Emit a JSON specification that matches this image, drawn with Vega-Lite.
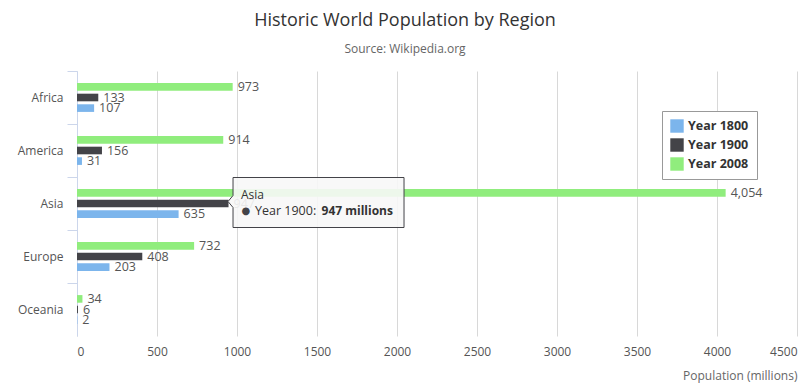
{
  "$schema": "https://vega.github.io/schema/vega-lite/v6.json",
  "width": 720,
  "height": 265,
  "autosize": {"type": "none"},
  "padding": {"left": 77, "top": 71, "right": 13, "bottom": 53},
  "background": "white",
  "title": {
    "text": "Historic World Population by Region",
    "subtitle": "Source: Wikipedia.org",
    "anchor": "middle",
    "dx": -32,
    "offset": 16,
    "font": "Open Sans",
    "fontSize": 18,
    "fontWeight": "normal",
    "color": "#333333",
    "subtitleFont": "Open Sans",
    "subtitleFontSize": 12,
    "subtitleColor": "#666666",
    "subtitlePadding": 14
  },
  "config": {
    "view": {"stroke": null},
    "font": "Open Sans",
    "legend": {
      "orient": "top-right",
      "offset": 40,
      "padding": 8,
      "fillColor": "white",
      "strokeColor": "#999999",
      "cornerRadius": 0,
      "symbolType": "square",
      "symbolSize": 180,
      "symbolStrokeWidth": 0,
      "symbolOpacity": 1,
      "labelFont": "Open Sans",
      "labelFontSize": 12.5,
      "labelFontWeight": "bold",
      "labelColor": "#333333",
      "rowPadding": 5,
      "title": null
    }
  },
  "datasets": {
    "pop": [
      {"region": "Africa", "series": "Year 1800", "value": 107},
      {"region": "Africa", "series": "Year 1900", "value": 133},
      {"region": "Africa", "series": "Year 2008", "value": 973},
      {"region": "America", "series": "Year 1800", "value": 31},
      {"region": "America", "series": "Year 1900", "value": 156},
      {"region": "America", "series": "Year 2008", "value": 914},
      {"region": "Asia", "series": "Year 1800", "value": 635},
      {"region": "Asia", "series": "Year 1900", "value": 947},
      {"region": "Asia", "series": "Year 2008", "value": 4054},
      {"region": "Europe", "series": "Year 1800", "value": 203},
      {"region": "Europe", "series": "Year 1900", "value": 408},
      {"region": "Europe", "series": "Year 2008", "value": 732},
      {"region": "Oceania", "series": "Year 1800", "value": 2},
      {"region": "Oceania", "series": "Year 1900", "value": 6},
      {"region": "Oceania", "series": "Year 2008", "value": 34}
    ],
    "tip": [
      {"region": "Asia", "value": 947, "header": "Asia", "bullet": "●", "name": "Year 1900:", "amount": "947 millions"}
    ]
  },
  "layer": [
    {
      "data": {"name": "pop"},
      "mark": {"type": "bar"},
      "encoding": {
        "y": {
          "field": "region",
          "type": "nominal",
          "sort": ["Africa", "America", "Asia", "Europe", "Oceania"],
          "scale": {"paddingInner": 0.4, "paddingOuter": 0.2},
          "axis": {
            "title": null,
            "domain": true,
            "domainColor": "#ccd6eb",
            "ticks": true,
            "tickColor": "#ccd6eb",
            "tickSize": 10,
            "bandPosition": -0.3333,
            "labelPadding": 4,
            "labelFont": "Open Sans",
            "labelFontSize": 12,
            "labelColor": "#555555"
          }
        },
        "yOffset": {
          "field": "series",
          "type": "nominal",
          "scale": {"domain": ["Year 2008", "Year 1900", "Year 1800"], "paddingInner": 0.28, "paddingOuter": 0.14}
        },
        "x": {
          "field": "value",
          "type": "quantitative",
          "scale": {"domain": [0, 4500], "nice": false},
          "axis": {
            "title": "Population (millions)",
            "titleAnchor": "end",
            "titleFont": "Open Sans",
            "titleFontSize": 12,
            "titleFontWeight": "normal",
            "titleColor": "#666666",
            "titlePadding": 13,
            "values": [0, 500, 1000, 1500, 2000, 2500, 3000, 3500, 4000, 4500],
            "format": "d",
            "grid": true,
            "gridColor": "#d8d8d8",
            "domain": false,
            "ticks": false,
            "labelPadding": 10,
            "labelFont": "Open Sans",
            "labelFontSize": 12,
            "labelColor": "#555555"
          }
        },
        "color": {
          "field": "series",
          "type": "nominal",
          "scale": {"domain": ["Year 1800", "Year 1900", "Year 2008"], "range": ["#7cb5ec", "#434348", "#90ed7d"]},
          "legend": {"title": null}
        }
      }
    },
    {
      "data": {"name": "pop"},
      "mark": {"type": "text", "align": "left", "baseline": "middle", "dx": 5, "fontSize": 12.5, "font": "Open Sans", "color": "#555555"},
      "encoding": {
        "y": {"field": "region", "type": "nominal", "sort": ["Africa", "America", "Asia", "Europe", "Oceania"]},
        "yOffset": {"field": "series", "type": "nominal"},
        "x": {"field": "value", "type": "quantitative"},
        "text": {"field": "value", "type": "quantitative", "format": ","}
      }
    },
    {
      "data": {"name": "tip"},
      "mark": {
        "type": "point",
        "shape": "M0.045,-0.26 L1.755,-0.26 L1.755,0.24 L0.045,0.24 L0.045,0.04 L-0.005,-0.02 L0.045,-0.08 Z",
        "size": 40000,
        "filled": true,
        "fill": "#f7f7f7",
        "fillOpacity": 0.9,
        "stroke": "#434348",
        "strokeWidth": 1,
        "opacity": 1
      },
      "encoding": {
        "y": {"field": "region", "type": "nominal", "sort": ["Africa", "America", "Asia", "Europe", "Oceania"]},
        "x": {"field": "value", "type": "quantitative"}
      }
    },
    {
      "data": {"name": "tip"},
      "mark": {"type": "text", "align": "left", "baseline": "middle", "dx": 12.5, "dy": -9, "fontSize": 12, "font": "Open Sans", "color": "#333333"},
      "encoding": {
        "y": {"field": "region", "type": "nominal", "sort": ["Africa", "America", "Asia", "Europe", "Oceania"]},
        "x": {"field": "value", "type": "quantitative"},
        "text": {"field": "header"}
      }
    },
    {
      "data": {"name": "tip"},
      "mark": {"type": "text", "align": "left", "baseline": "middle", "dx": 13, "dy": 7.5, "fontSize": 10, "font": "DejaVu Sans", "color": "#434348"},
      "encoding": {
        "y": {"field": "region", "type": "nominal", "sort": ["Africa", "America", "Asia", "Europe", "Oceania"]},
        "x": {"field": "value", "type": "quantitative"},
        "text": {"field": "bullet"}
      }
    },
    {
      "data": {"name": "tip"},
      "mark": {"type": "text", "align": "left", "baseline": "middle", "dx": 26.5, "dy": 7.5, "fontSize": 12.5, "font": "Open Sans", "color": "#333333"},
      "encoding": {
        "y": {"field": "region", "type": "nominal", "sort": ["Africa", "America", "Asia", "Europe", "Oceania"]},
        "x": {"field": "value", "type": "quantitative"},
        "text": {"field": "name"}
      }
    },
    {
      "data": {"name": "tip"},
      "mark": {"type": "text", "align": "left", "baseline": "middle", "dx": 93, "dy": 7.5, "fontSize": 12, "fontWeight": "bold", "font": "Open Sans", "color": "#333333"},
      "encoding": {
        "y": {"field": "region", "type": "nominal", "sort": ["Africa", "America", "Asia", "Europe", "Oceania"]},
        "x": {"field": "value", "type": "quantitative"},
        "text": {"field": "amount"}
      }
    }
  ]
}
